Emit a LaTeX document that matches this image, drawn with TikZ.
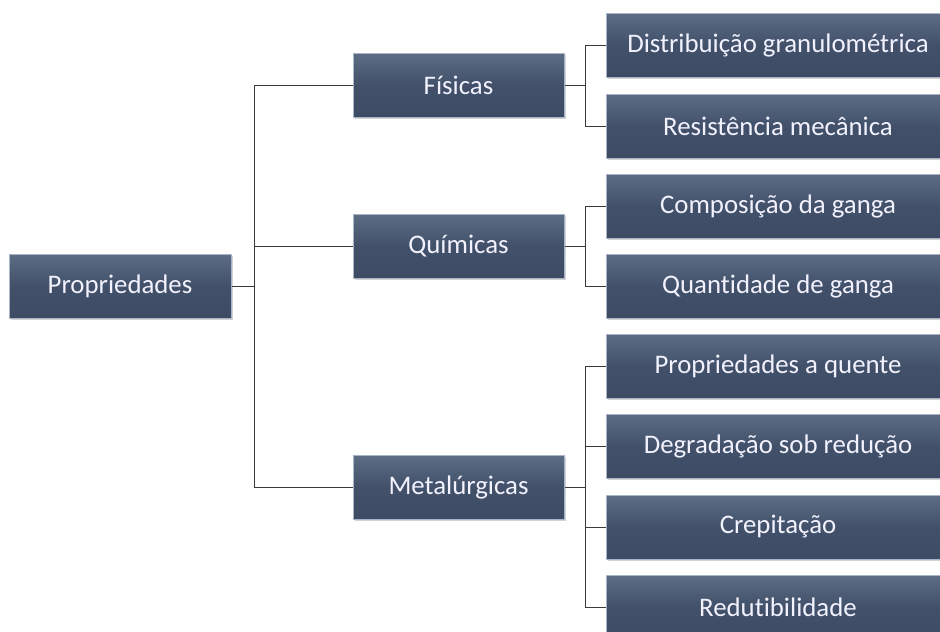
\documentclass[tikz,border=0pt]{standalone}
\usepackage{fontspec}
\setmainfont{Carlito}[Ligatures=NoCommon]
\usetikzlibrary{shadows}
\definecolor{boxtop}{HTML}{5D6D86}
\definecolor{boxbot}{HTML}{3D4C64}
\definecolor{boxedge}{HTML}{A9B4C6}
\definecolor{linecol}{HTML}{3A3A3A}
\tikzset{
  pbox/.style={draw=boxedge, line width=1pt, top color=boxtop, bottom color=boxbot,
    middle color=boxbot!85!boxtop, text=white!95!blue, font=\fontsize{26.8}{30}\selectfont,
    minimum height=64pt, inner sep=0pt, anchor=center,
    drop shadow={shadow xshift=1.5pt, shadow yshift=-1.5pt, opacity=0.35}},
  conn/.style={draw=linecol, line width=1pt}
}
\begin{document}
\begin{tikzpicture}[x=1pt,y=-1pt]
\useasboundingbox (0,0) rectangle (940,632);
\node[pbox, minimum width=222pt] (prop) at (120,286) {Propriedades};
\node[pbox, minimum width=211pt] (fis) at (458.5,85) {Físicas};
\node[pbox, minimum width=211pt] (qui) at (458.5,246) {Químicas};
\node[pbox, minimum width=211pt] (met) at (458.5,487) {Metalúrgicas};
\node[pbox, minimum width=344pt] (dis) at (778,45) {Distribuição granulométrica};
\node[pbox, minimum width=344pt] (res) at (778,126) {Resistência mecânica};
\node[pbox, minimum width=344pt] (com) at (778,206) {Composição da ganga};
\node[pbox, minimum width=344pt] (qua) at (778,286) {Quantidade de ganga};
\node[pbox, minimum width=344pt] (pqu) at (778,366) {Propriedades a quente};
\node[pbox, minimum width=344pt] (deg) at (778,446) {Degradação sob redução};
\node[pbox, minimum width=344pt] (cre) at (778,527) {Crepitação};
\node[pbox, minimum width=344pt] (red) at (778,607) {Redutibilidade};
% connectors
\draw[conn] (prop.east) -- ++(23,0) coordinate (t);
\draw[conn] (fis.west) -| (t) |- (met.west);
\draw[conn] (t |- qui.west) -- (qui.west);
\draw[conn] (fis.east) -- ++(21,0) coordinate (f);
\draw[conn] (dis.west) -| (f) |- (res.west);
\draw[conn] (qui.east) -- ++(21,0) coordinate (q);
\draw[conn] (com.west) -| (q) |- (qua.west);
\draw[conn] (met.east) -- ++(21,0) coordinate (m);
\draw[conn] (pqu.west) -| (m) |- (red.west);
\draw[conn] (m |- deg.west) -- (deg.west);
\draw[conn] (m |- cre.west) -- (cre.west);
\end{tikzpicture}
\end{document}
